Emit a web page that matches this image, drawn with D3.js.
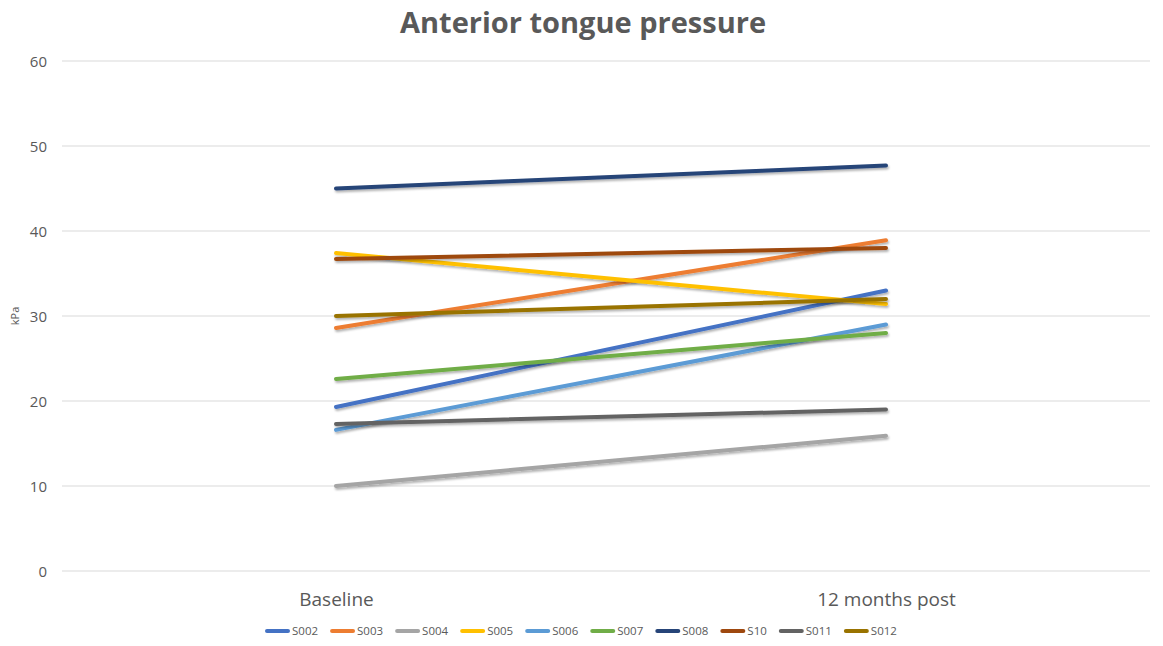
<!DOCTYPE html>
<html>
<head>
<meta charset="utf-8">
<script src="https://cdn.jsdelivr.net/npm/d3@7"></script>
<style>
  body { margin: 0; background: #fff; }
  text { font-family: "Open Sans", "Liberation Sans", sans-serif; fill: #595959; }
</style>
</head>
<body>
<svg id="chart" width="1163" height="646"></svg>
<script>
const categories = ["Baseline", "12 months post"];
const subjects = ["S002", "S003", "S004", "S005", "S006", "S007", "S008", "S10", "S011", "S012"];
const baseline = [19.3, 28.6, 10.0, 37.4, 16.6, 22.6, 45.0, 36.7, 17.3, 30.0];
const post12 = [33.0, 38.9, 15.9, 31.4, 29.0, 28.0, 47.7, 38.0, 19.0, 32.0];
const colors = ["#4472C4", "#ED7D31", "#A5A5A5", "#FFC000", "#5B9BD5", "#70AD47", "#264478", "#9E480E", "#636363", "#997300"];
const yTicks = [0, 10, 20, 30, 40, 50, 60];

const svg = d3.select("#chart");

const defs = svg.append("defs");
const f = defs.append("filter").attr("id", "shadow").attr("x", "-10%").attr("y", "-50%").attr("width", "120%").attr("height", "200%");
f.append("feDropShadow").attr("dx", 1).attr("dy", 2).attr("stdDeviation", 1.2).attr("flood-color", "#000").attr("flood-opacity", 0.3);

const x = d3.scalePoint().domain(categories).range([336, 886]);
const y = d3.scaleLinear().domain([0, 60]).range([571, 61]);

// gridlines
svg.append("g")
  .selectAll("line")
  .data(yTicks)
  .enter()
  .append("line")
  .attr("x1", 62)
  .attr("x2", 1150)
  .attr("y1", (d) => y(d))
  .attr("y2", (d) => y(d))
  .attr("stroke", "#d9d9d9")
  .attr("stroke-width", 1);

// y axis labels
const yAxis = d3.axisLeft(y).tickValues(yTicks).tickSize(0).tickPadding(0);
const ya = svg.append("g").attr("transform", "translate(47,0)").call(yAxis);
ya.select(".domain").remove();
ya.selectAll("text").style("font-size", "15px").attr("fill", "#595959").attr("dy", "0.35em");

// x axis labels
const xAxis = d3.axisBottom(x).tickSize(0).tickPadding(0);
const xa = svg.append("g").attr("transform", "translate(0,593)").call(xAxis);
xa.select(".domain").remove();
xa.selectAll("text").style("font-size", "19px").attr("fill", "#595959").attr("dy", "0.7em");

// title
svg.append("text")
  .attr("x", 583)
  .attr("y", 33)
  .attr("text-anchor", "middle")
  .style("font-size", "29px")
  .style("font-weight", "bold")
  .text("Anterior tongue pressure");

// y axis title
svg.append("text")
  .attr("transform", "translate(19,316) rotate(-90)")
  .attr("text-anchor", "middle")
  .style("font-size", "11px")
  .text("kPa");

// lines
const series = subjects.map((s, i) => ({
  name: s,
  color: colors[i],
  values: [
    { cat: categories[0], v: baseline[i] },
    { cat: categories[1], v: post12[i] },
  ],
}));

const line = d3.line().x((d) => x(d.cat)).y((d) => y(d.v));

svg.append("g")
  .selectAll("path")
  .data(series)
  .enter()
  .append("path")
  .attr("d", (d) => line(d.values))
  .attr("fill", "none")
  .attr("stroke", (d) => d.color)
  .attr("stroke-width", 4)
  .attr("stroke-linecap", "round")
  .attr("filter", "url(#shadow)");

// legend
const legend = svg.append("g");
let lx = 267;
series.forEach((s) => {
  const g = legend.append("g");
  g.append("line")
    .attr("x1", lx).attr("x2", lx + 21)
    .attr("y1", 631).attr("y2", 631)
    .attr("stroke", s.color)
    .attr("stroke-width", 4)
    .attr("stroke-linecap", "round");
  const t = g.append("text")
    .attr("x", lx + 25)
    .attr("y", 631)
    .attr("dy", "0.35em")
    .style("font-size", "11.5px")
    .text(s.name);
  lx += 25 + t.node().getComputedTextLength() + 14;
});
</script>
</body>
</html>
